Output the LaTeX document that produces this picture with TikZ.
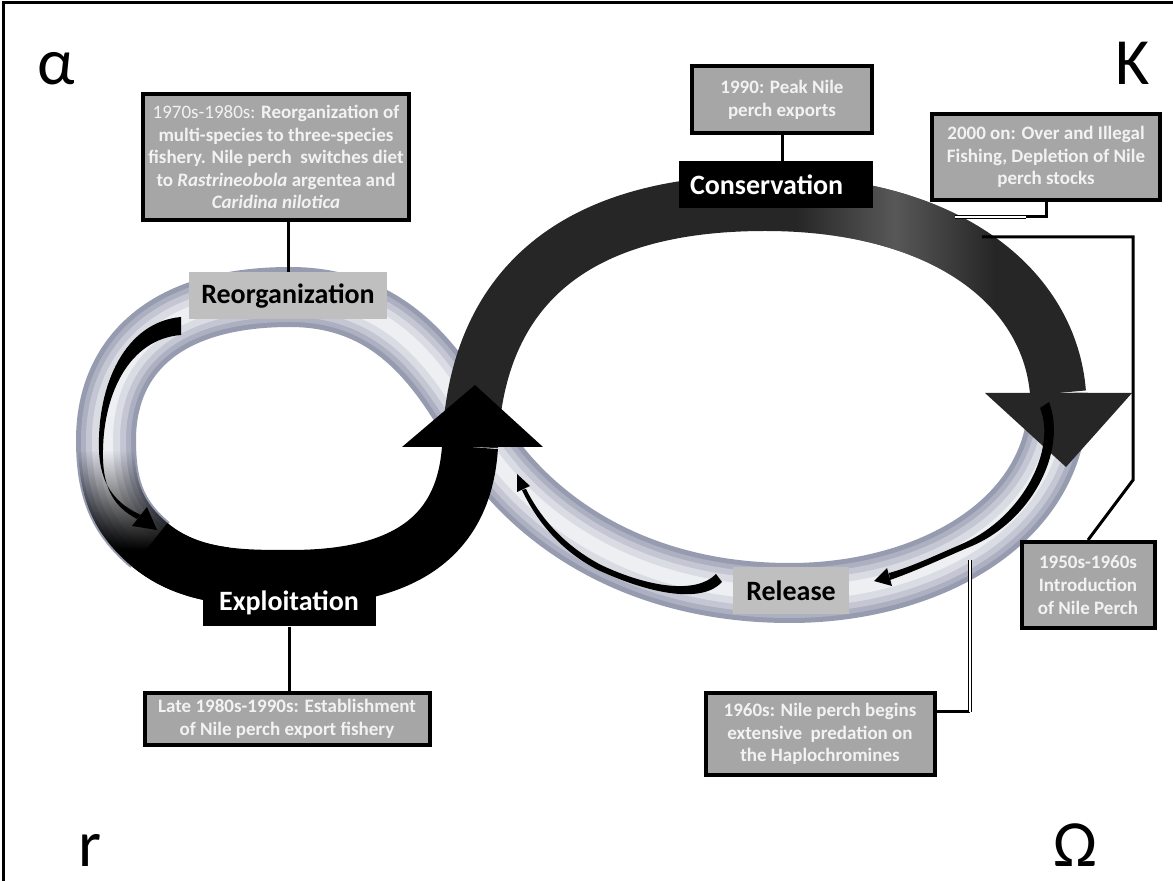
\documentclass[tikz,border=0pt]{standalone}
\usepackage{fontspec}
\setmainfont{Carlito}
\usetikzlibrary{arrows.meta,positioning,calc,fadings}

\definecolor{boxgray}{RGB}{166,166,166}
\definecolor{boxtext}{RGB}{242,242,242}
\definecolor{labelgray}{RGB}{191,191,191}
\definecolor{banddark}{RGB}{38,38,38}
\definecolor{bandsheen}{RGB}{88,88,88}
\definecolor{ringA}{RGB}{150,155,175}
\definecolor{ringB}{RGB}{172,176,192}
\definecolor{ringC}{RGB}{196,199,211}
\definecolor{ringD}{RGB}{218,220,228}
\definecolor{ringE}{RGB}{238,239,243}

\tikzfading[name=fade in down, top color=transparent!100, bottom color=transparent!0]
\tikzfading[name=sheen, left color=transparent!100, right color=transparent!100,
  middle color=transparent!0]

\newcommand{\evfont}{\fontsize{9.5}{11.3}\selectfont\bfseries}
\newcommand{\phfont}{\fontsize{14}{16}\selectfont\bfseries}
\newcommand{\cornerfont}{\fontsize{33}{36}\selectfont}

\begin{document}
\begin{tikzpicture}[x=0.5pt,y=-0.5pt,
  eventbox/.style={draw=black,line width=2pt,fill=boxgray,text=boxtext,
                   font=\evfont,align=center,inner sep=1pt},
  phase/.style={font=\phfont,inner sep=0pt,minimum height=23.5pt},
  ring/.style={line width=30pt,draw=ringA,
               postaction={draw=ringB,line width=25pt},
               postaction={draw=ringC,line width=20pt},
               postaction={draw=ringD,line width=14pt},
               postaction={draw=ringE,line width=7pt}},
  band/.style={line width=28pt},
  conn/.style={draw=black,line width=1.5pt},
  conndbl/.style={draw=black,line width=0.6pt,double=white,double distance=1pt},
  corner/.style={font=\cornerfont,inner sep=0pt}]

  \useasboundingbox (0,0) rectangle (1173,881);

  % frame
  \draw[line width=1.5pt] (3,881) -- (3,3) -- (1173,3);

  % silver ring: right lobe bottom, through the crossing, round the left lobe
  \draw[ring] (1058,393) .. controls (1062,520) and (930,593) .. (790,593)
    .. controls (630,593) and (525,515) .. (475,430)
    .. controls (440,372) and (395,297) .. (290,297)
    .. controls (160,297) and (106,360) .. (106,440)
    .. controls (106,490) and (118,518) .. (150,545);

  % dark band over the top of the right lobe
  \draw[band,banddark] (470,447) .. controls (475,300) and (560,203) .. (765,203)
    .. controls (950,203) and (1050,290) .. (1058,393);
  \draw[band,bandsheen,path fading=sheen,fit fading=false,
        fading transform={shift={(895,250)},xscale=2}]
    (765,203) .. controls (950,203) and (1050,290) .. (1058,393);
  \fill[banddark] (985,393) -- (1132,393) -- (1066,467) -- cycle;

  % black band along the bottom of the left lobe
  \draw[band,black,path fading=fade in down,fit fading=false,
        fading transform={shift={(128,500)}}]
    (106,440) .. controls (106,490) and (118,518) .. (150,545)
    .. controls (190,578) and (240,578) .. (290,578);
  \draw[band,black] (150,545) .. controls (190,578) and (240,578) .. (290,578)
    .. controls (400,578) and (464,540) .. (470,447);
  \fill[black] (402,447) -- (475,385) -- (543,447) -- cycle;

  % thin arrows inside the loops
  \fill[black] (181,317) .. controls (125,322) and (97,385) .. (99,450)
    .. controls (100,485) and (116,504) .. (141,515)
    -- (137,519) .. controls (112,506) and (102,485) .. (103,450)
    .. controls (104,392) and (130,339) .. (181,335) -- cycle;
  \fill[black] (157,530) -- (132,526) -- (147,507) -- cycle;

  \fill[black] (1049,402) .. controls (1068,452) and (1030,524) .. (967,548)
    .. controls (937,561) and (913,572) .. (890,580)
    -- (889,573) .. controls (911,567) and (934,556) .. (964,543)
    .. controls (1022,517) and (1057,450) .. (1040,408) -- cycle;
  \fill[black] (874,581) -- (892,586) -- (887,568) -- cycle;

  \fill[black] (722,582) .. controls (702,604) and (650,594) .. (598,570)
    .. controls (563,552) and (538,524) .. (522,490)
    -- (526,489) .. controls (542,521) and (567,547) .. (601,565)
    .. controls (650,588) and (697,594) .. (716,574) -- cycle;
  \fill[black] (517,474) -- (530,486) -- (517,492) -- cycle;

  % phases of the cycle
  \node[phase,fill=black,text=white,minimum width=97pt,text width=86pt,align=left]
    (cons) at (776,185) {Conservation};
  \node[phase,fill=black,text=white,minimum width=86.5pt] (expl) at (289,603) {Exploitation};
  \node[phase,fill=labelgray,minimum width=99pt] (reorg) at (288,296) {Reorganization};
  \node[phase,fill=labelgray,minimum width=58pt] (rel) at (791,591) {Release};

  % events
  \node[eventbox,minimum width=133pt,minimum height=63pt] (evReorg) at (276,157)
    {{\mdseries 1970s-1980s:} Reorganization of\\
     multi-species to three-species\\
     fishery. Nile perch\ \ switches diet\\
     to \textit{Rastrineobola} argentea and\\
     \textit{Caridina nilotica}};
  \node[eventbox,minimum width=90pt,minimum height=33.5pt] (evPeak) at (782,100)
    {1990: Peak Nile\\perch exports};
  \node[eventbox,minimum width=114pt,minimum height=43pt] (evOver) at (1046,157)
    {2000 on: Over and Illegal\\Fishing, Depletion of Nile\\perch stocks};
  \node[eventbox,minimum width=66.5pt,minimum height=43pt] (evIntro) at (1088,585)
    {1950s-1960s\\Introduction\\of Nile Perch};
  \node[eventbox,minimum width=114.5pt,minimum height=40.5pt] (evPred) at (820,734)
    {1960s: Nile perch begins\\extensive\ \ predation on\\the Haplochromines};
  \node[eventbox,minimum width=142.5pt,minimum height=26pt] (evExport) at (287,719)
    {Late 1980s-1990s: Establishment\\of Nile perch export fishery};

  % connectors
  \draw[conn] (reorg.north) -- (reorg.north |- evReorg.south);
  \draw[conn] (evPeak.south) -- (evPeak.south |- cons.north);
  \draw[conn] (expl.south) -- (expl.south |- evExport.north);

  \coordinate (overEnd) at (955,217);
  \coordinate (overKnee) at (evOver.south |- overEnd);
  \draw[conn] (evOver.south) -- (overKnee) -- ++(-20,0);
  \draw[conndbl] ($(overKnee)+(-20,0)$) -- (overEnd);

  \coordinate (introStart) at (982,237);
  \coordinate (introKnee) at (1133,480);
  \draw[conn] (introStart) -| (introKnee) -- (evIntro.north);

  \coordinate (predEnd) at (970,560);
  \coordinate (predKnee) at (970,712);
  \draw[conn] (evPred.east |- predKnee) -- (predKnee);
  \draw[conndbl] (predKnee) -- (predEnd);

  % corner letters
  \node[corner,anchor=base west] (alphaMark) at (37,85) {α};
  \node[corner,anchor=base east] (kMark) at (1150,85) {K};
  \node[corner,anchor=base west] (rMark) at (78,866) {r};
  \node[corner,anchor=base east] (omegaMark) at (1098,866) {Ω};

\end{tikzpicture}
\end{document}
